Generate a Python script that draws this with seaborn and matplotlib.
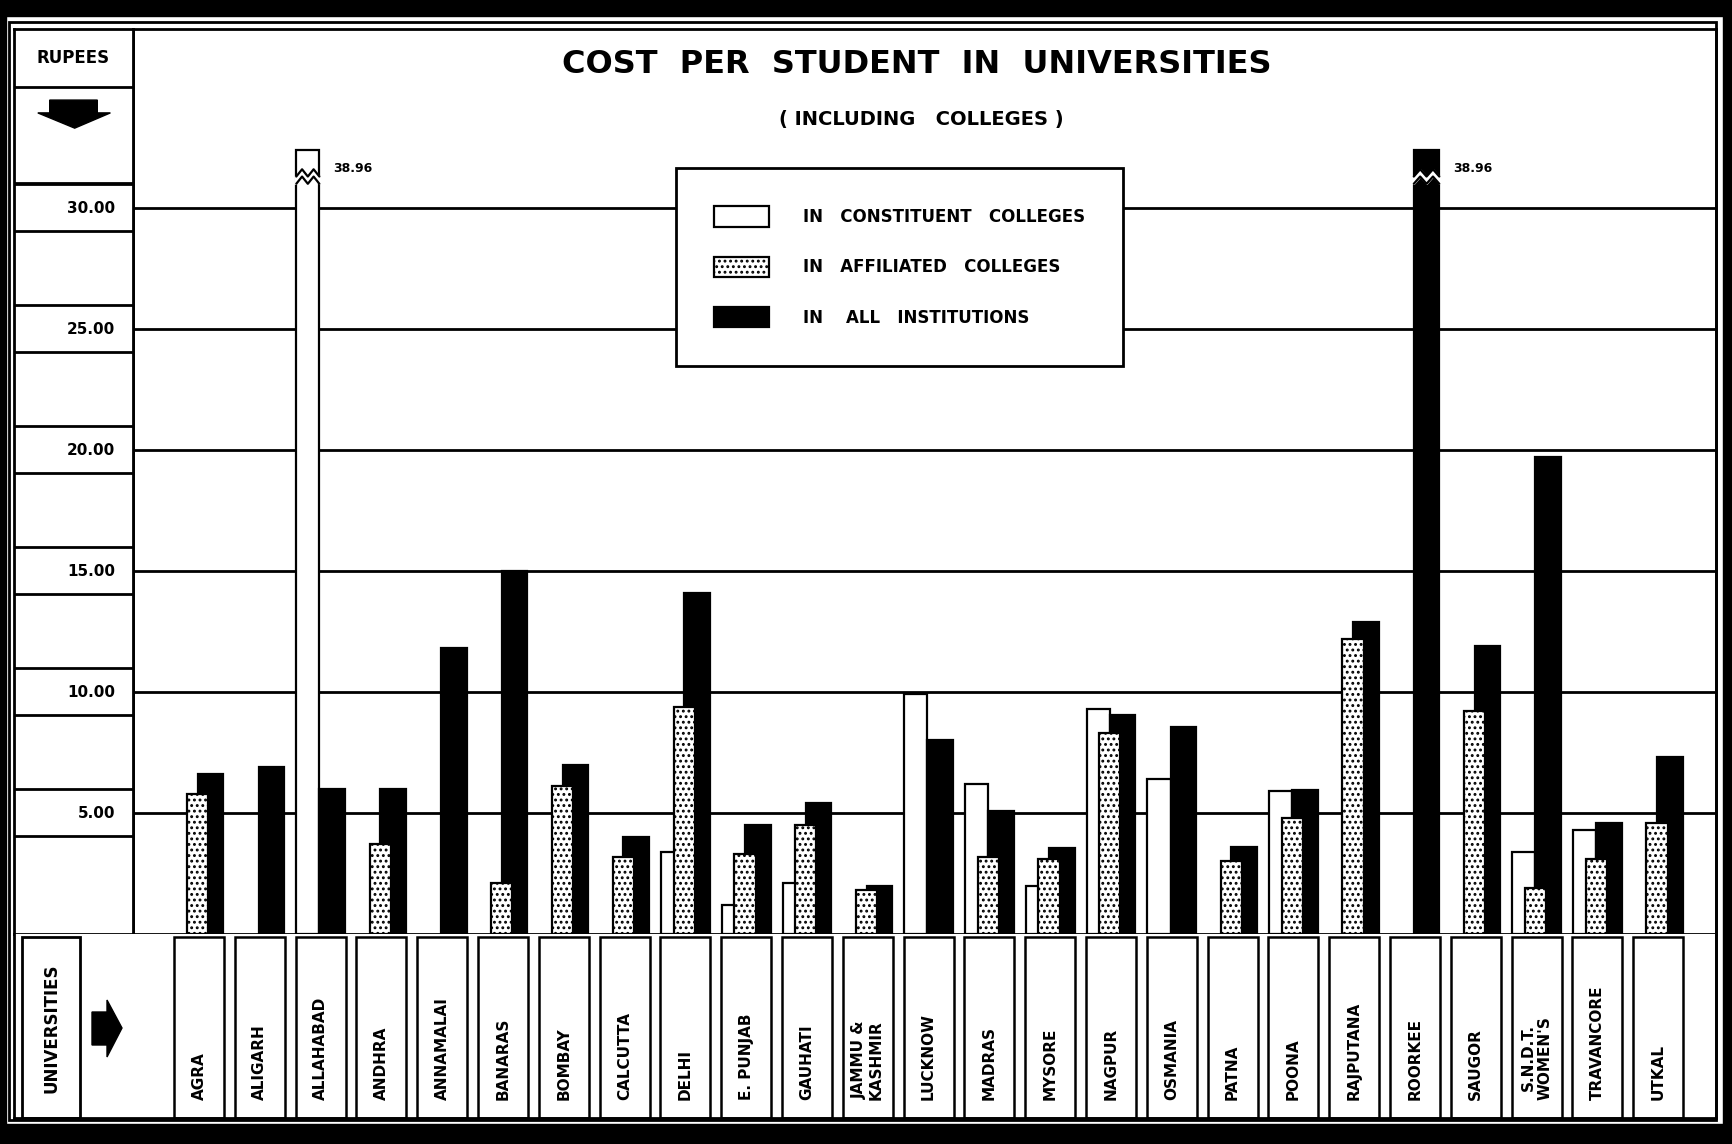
import numpy as np
import pandas as pd
import seaborn as sns
import matplotlib.pyplot as plt
from matplotlib.patches import Rectangle, Polygon, Patch

# ---- data (rupees per student) ----
universities = ["AGRA", "ALIGARH", "ALLAHABAD", "ANDHRA", "ANNAMALAI", "BANARAS",
                "BOMBAY", "CALCUTTA", "DELHI", "E. PUNJAB", "GAUHATI", "JAMMU &\nKASHMIR",
                "LUCKNOW", "MADRAS", "MYSORE", "NAGPUR", "OSMANIA", "PATNA", "POONA",
                "RAJPUTANA", "ROORKEE", "SAUGOR", "S.N.D.T.\nWOMEN'S", "TRAVANCORE", "UTKAL"]
nan = np.nan
constituent = [nan, nan, 38.96, nan, nan, nan, nan, nan, 3.4, 1.2, 2.1, nan, 9.9,
               6.2, 2.0, 9.3, 6.4, nan, 5.9, nan, nan, nan, 3.4, 4.3, nan]
affiliated = [5.8, nan, nan, 3.7, nan, 2.1, 6.1, 3.2, 9.4, 3.3, 4.5, 1.8, nan,
              3.2, 3.1, 8.3, nan, 3.0, 4.8, 12.2, nan, 9.2, 1.9, 3.1, 4.6]
all_inst = [6.6, 6.9, 6.0, 6.0, 11.8, 15.0, 7.0, 4.0, 14.1, 4.5, 5.4, 2.0, 8.0,
            5.1, 3.55, 9.05, 8.55, 3.6, 5.95, 12.9, 38.96, 11.9, 19.7, 4.6, 7.3]
kinds = ["IN   CONSTITUENT   COLLEGES", "IN   AFFILIATED   COLLEGES", "IN    ALL   INSTITUTIONS"]
ticks = [5, 10, 15, 20, 25, 30]
tick_labels = ["5.00", "10.00", "15.00", "20.00", "25.00", "30.00"]

CAP = 32.4     # tall bars are cut off here
BREAK = 31.0   # where the zigzag break is drawn

df = pd.DataFrame({"university": universities * 3,
                   "kind": np.repeat(kinds, len(universities)),
                   "cost": constituent + affiliated + all_inst})
df = df.dropna()
df["shown"] = df["cost"].clip(upper=CAP)

sns.set_style("white")
plt.rcParams["font.family"] = ["DejaVu Sans"]
plt.rcParams["text.color"] = "black"
plt.rcParams["hatch.linewidth"] = 1.3
plt.rcParams["hatch.color"] = "black"

W, H = 1733, 1144
fig = plt.figure(figsize=(W / 100, H / 100), dpi=100)


def box(x0, y0, x1, y1):
    return [x0 / W, 1 - y1 / H, (x1 - x0) / W, (y1 - y0) / H]


# outer scanned border
for x0, y0, x1, y1 in [(0, 0, W, 16), (0, 1124, W, H), (0, 0, 6, H), (1723, 0, W, H)]:
    fig.patches.append(Rectangle((x0 / W, 1 - y1 / H), (x1 - x0) / W, (y1 - y0) / H,
                                 transform=fig.transFigure, color="black", zorder=0))
fig.patches.append(Rectangle((9 / W, 1 - 1120 / H), (1716 - 9) / W, (1120 - 22) / H,
                             transform=fig.transFigure, fill=False, lw=2, ec="black"))

CAT0, STEP, ZERO, UNIT = 199, 60.8, 934, 24.2
ax = fig.add_axes(box(133, 29, 1716, 934))
ax_left = fig.add_axes(box(14, 29, 133, 934))
ax_bot = fig.add_axes(box(14, 934, 1716, 1118))

# ---- bars ----
sns.barplot(data=df, x="university", y="shown", hue="kind", order=universities,
            hue_order=kinds, palette=["white", "white", "black"], saturation=1,
            width=0.63, dodge=True, edgecolor="black", linewidth=1.6,
            errorbar=None, legend=False, ax=ax)

offsets = [-0.21, -0.02, 0.19]
widths = [0.38, 0.35, 0.42]
zorders = [2, 4, 3]
for k, cont in enumerate(ax.containers):
    shift = offsets[k] - (k - 1) * 0.21
    for p in cont.patches:
        c = p.get_x() + p.get_width() / 2 + shift
        p.set_width(widths[k])
        p.set_x(c - widths[k] / 2)
        p.set_zorder(zorders[k])
        if k == 1:
            p.set_hatch("...")
        if p.get_height() >= CAP - 1e-6:
            x0, w = p.get_x(), p.get_width()
            xs = np.linspace(x0, x0 + w, 5)
            low = BREAK + np.array([0.0, 0.3, 0.0, 0.3, 0.0])
            ax.fill_between([x0 - 0.03] + list(xs) + [x0 + w + 0.03],
                            np.r_[BREAK, low, BREAK], np.r_[BREAK + 0.3, low + 0.3, BREAK + 0.3],
                            color="white", zorder=6)
            ax.plot(xs, low, color="black", lw=1.6, zorder=7)
            ax.plot(xs, low + 0.3, color="black", lw=1.6, zorder=7)

for name, vals in [(kinds[0], constituent), (kinds[2], all_inst)]:
    k = kinds.index(name)
    for i, v in enumerate(vals):
        if not np.isnan(v) and v > CAP:
            ax.text(i + offsets[k] + widths[k] / 2 + 0.22, CAP - 0.75, f"{v:.2f}",
                    fontsize=9, weight="bold", va="center", ha="left")

ax.set_xlim((133 - CAT0) / STEP, (1716 - CAT0) / STEP)
ax.set_ylim(0, (ZERO - 29) / UNIT)
ax.set_yticks(ticks)
ax.yaxis.grid(True, color="black", lw=2)
ax.set_axisbelow(True)
ax.tick_params(left=False, labelleft=False, bottom=False, labelbottom=False)
ax.set_xlabel("")
ax.set_ylabel("")
for s in ax.spines.values():
    s.set_color("black")
    s.set_linewidth(2)

ax.text(0.495, 0.961, "COST  PER  STUDENT  IN  UNIVERSITIES", transform=ax.transAxes,
        ha="center", va="center", fontsize=23, weight="heavy")
ax.text(0.498, 0.9, "( INCLUDING   COLLEGES )", transform=ax.transAxes,
        ha="center", va="center", fontsize=14, weight="bold")

handles = [Patch(facecolor="white", edgecolor="black", lw=1.6),
           Patch(facecolor="white", edgecolor="black", lw=1.6, hatch="..."),
           Patch(facecolor="black", edgecolor="black", lw=1.6)]
leg = ax.legend(handles, kinds, loc="upper left",
                bbox_to_anchor=((676 - 133) / 1583, (934 - 168) / 905),
                frameon=True, fancybox=False, edgecolor="black", framealpha=1,
                borderpad=2.3, handlelength=3.3, handleheight=1.5, labelspacing=1.8,
                handletextpad=2.0, borderaxespad=0, prop=dict(weight="bold", size=12))
leg.get_frame().set_linewidth(2)

# ---- left column: rupees scale ----
ax_left.set_xlim(0, 1)
ax_left.set_ylim(0, (ZERO - 29) / UNIT)
ax_left.set_xticks([])
ax_left.set_yticks([])
for s in ax_left.spines.values():
    s.set_linewidth(2)
    s.set_color("black")
ax_left.axhline(35.0, color="black", lw=2)
ax_left.axhline(31.03, color="black", lw=2)
for t, lab in zip(ticks, tick_labels):
    ax_left.axhline(t + 1.0, color="black", lw=2)
    ax_left.axhline(t - 0.93, color="black", lw=2)
    ax_left.text(0.85, t, lab, ha="right", va="center", fontsize=11, weight="bold")
ax_left.text(0.5, 36.2, "RUPEES", ha="center", va="center", fontsize=12, weight="bold")
ax_left.add_patch(Polygon([(0.30, 34.46), (0.70, 34.46), (0.70, 33.93), (0.81, 33.93),
                           (0.51, 33.3), (0.20, 33.93), (0.30, 33.93)],
                          closed=True, color="black"))

# ---- bottom row: university names ----
ax_bot.set_xlim((14 - CAT0) / STEP, (1716 - CAT0) / STEP)
ax_bot.set_ylim(0, 1)
ax_bot.set_xticks([])
ax_bot.set_yticks([])
for side, s in ax_bot.spines.items():
    s.set_linewidth(2)
    s.set_color("black")
ax_bot.spines["top"].set_visible(False)
for i, name in enumerate(universities):
    ax_bot.add_patch(Rectangle((i - 0.41, 0), 0.82, 0.985, fill=False, lw=1.8, ec="black"))
    ax_bot.text(i, 0.1, name, rotation=90, ha="center", va="bottom",
                fontsize=11, weight="bold", linespacing=1.1)
x_a, x_b = (22 - CAT0) / STEP, (80 - CAT0) / STEP
ax_bot.add_patch(Rectangle((x_a, 0), x_b - x_a, 0.985, fill=False, lw=2, ec="black"))
ax_bot.text((x_a + x_b) / 2, 0.49, "UNIVERSITIES", rotation=90, ha="center", va="center",
            fontsize=12, weight="bold")
px = lambda v: (v - CAT0) / STEP
py = lambda v: (1118 - v) / 184
ax_bot.add_patch(Polygon([(px(92), py(1012)), (px(107), py(1012)), (px(107), py(1000)),
                          (px(122), py(1028)), (px(107), py(1057)), (px(107), py(1045)),
                          (px(92), py(1045))], closed=True, color="black"))

fig.savefig("out.png", dpi=100)
